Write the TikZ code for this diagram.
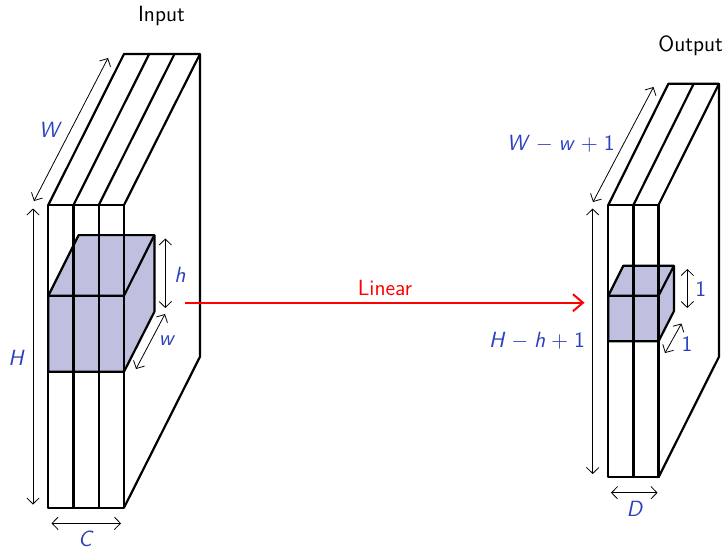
\documentclass[tikz,border=0pt]{standalone}
\usepackage{xcolor}
\usetikzlibrary{arrows.meta}
\renewcommand{\familydefault}{\sfdefault}
\definecolor{dimblue}{HTML}{2C3FBF}
\definecolor{boxfill}{HTML}{BFBFDF}
\newcommand{\vv}[1]{\textit{#1}}
\newcommand{\gap}{\hspace{0.265em}}
\tikzset{
  heavy/.style={line width=1.1pt,black,line join=round},
  cube/.style={heavy,fill=boxfill},
  dim/.style={line width=0.4pt,black,{Straight Barb[length=3pt,width=6.2pt,line width=0.4pt]}-{Straight Barb[length=3pt,width=6.2pt,line width=0.4pt]}},
  dimlabel/.style={text=dimblue,inner sep=0pt,font=\fontsize{11}{13}\selectfont},
  title/.style={text=black,inner sep=0pt,font=\fontsize{11}{13}\selectfont},
  flow/.style={line width=1pt,red,-{Straight Barb[length=5pt,width=8.5pt,line width=1pt]}},
  flowlabel/.style={text=red,inner sep=0pt,font=\fontsize{11}{13}\selectfont}
}
\begin{document}
\begin{tikzpicture}[x=0.5pt,y=-0.5pt]
\useasboundingbox (0,0) rectangle (727,548);
% ---------- input volume
\fill[white] (48.3,205) rectangle (124,507.7);
\draw[cube] (48.3,295.7) -- (78.6,235.1) -- (154.4,235.1) -- (154.4,311.7) -- (124,371.7) -- (48.3,371.7) -- cycle;
\draw[heavy] (48.3,295.7) -- (124,295.7) -- (154.4,235.1);
\draw[heavy] (124,295.7) -- (124,371.7);
\draw[heavy] (48.3,205) rectangle (124,507.7);
\draw[heavy] (73.5,205) -- (73.5,507.7);
\draw[heavy] (98.8,205) -- (98.8,507.7);
\draw[heavy] (48.3,205) -- (124,54) -- (200,54) -- (200,356.7) -- (124,507.7);
\draw[heavy] (73.5,205) -- (149.2,54);
\draw[heavy] (98.8,205) -- (174.5,54);
\draw[heavy] (124,205) -- (200,54);
% input dimensions
\coordinate (hT) at (165.3,238.5); \coordinate (hB) at (165.3,308);
\coordinate (wA) at (136,369); \coordinate (wB) at (165,314);
\coordinate (HT) at (33,208.5); \coordinate (HB) at (33,504.5);
\coordinate (CL) at (51.5,523.3); \coordinate (CR) at (121,523.3);
\coordinate (WA) at (34,201); \coordinate (WB) at (108,58);
\draw[dim] (hT) -- (hB);
\draw[dim] (wA) -- (wB);
\draw[dim] (HT) -- (HB);
\draw[dim] (CL) -- (CR);
\draw[dim] (WA) -- (WB);
\node[dimlabel] (lh) at (180,274.5) {\vv{h}};
\node[dimlabel] (lw) at (167,340.5) {\vv{w}};
\node[dimlabel] (lH) at (16.5,357.5) {\vv{H}};
\node[dimlabel] (lC) at (86,538.5) {\vv{C}};
\node[dimlabel] (lW) at (50.5,129.5) {\vv{W}};
\node[title] (inputT) at (161.5,15.5) {Input};
% ---------- output volume
\fill[white] (608.3,205) rectangle (658.5,477.3);
\draw[cube] (608.3,295.7) -- (623.3,265.7) -- (674,265.7) -- (674,311) -- (658.5,341.3) -- (608.3,341.3) -- cycle;
\draw[heavy] (608.3,295.7) -- (658.5,295.7) -- (674,265.7);
\draw[heavy] (658.5,295.7) -- (658.5,341.3);
\draw[heavy] (608.3,205) rectangle (658.5,477.3);
\draw[heavy] (633.4,205) -- (633.4,477.3);
\draw[heavy] (608.3,205) -- (668.4,83.7) -- (719,83.7) -- (719,356.7) -- (658.5,477.3);
\draw[heavy] (633.4,205) -- (693.7,83.7);
\draw[heavy] (658.5,205) -- (719,83.7);
% output dimensions
\coordinate (oneT) at (687.3,269); \coordinate (oneB) at (687.3,308);
\coordinate (oA) at (665,353); \coordinate (oB) at (681.5,323.5);
\coordinate (H2T) at (592.7,208.5); \coordinate (H2B) at (592.7,474);
\coordinate (DL) at (611,492.7); \coordinate (DR) at (657.5,492.7);
\coordinate (W2A) at (593,202); \coordinate (W2B) at (653.5,87);
\draw[dim] (oneT) -- (oneB);
\draw[dim] (oA) -- (oB);
\draw[dim] (H2T) -- (H2B);
\draw[dim] (DL) -- (DR);
\draw[dim] (W2A) -- (W2B);
\node[dimlabel] (l1a) at (700.7,289) {1};
\node[dimlabel] (l1b) at (687,344) {1};
\node[dimlabel] (lHh) at (537,341) {\vv{H}\gap$-$\gap\vv{h}\gap$+$\gap 1};
\node[dimlabel] (lD) at (635,509) {\vv{D}};
\node[dimlabel] (lWw) at (560.7,144) {\vv{W}\gap$-$\gap\vv{w}\gap$+$\gap 1};
\node[title] (outputT) at (690.7,46) {Output};
% ---------- linear map
\coordinate (fromC) at (185,302.7); \coordinate (toC) at (584.5,302.7);
\draw[flow] (fromC) -- (toC);
\node[flowlabel] (linL) at (385,288) {Linear};
\end{tikzpicture}
\end{document}
